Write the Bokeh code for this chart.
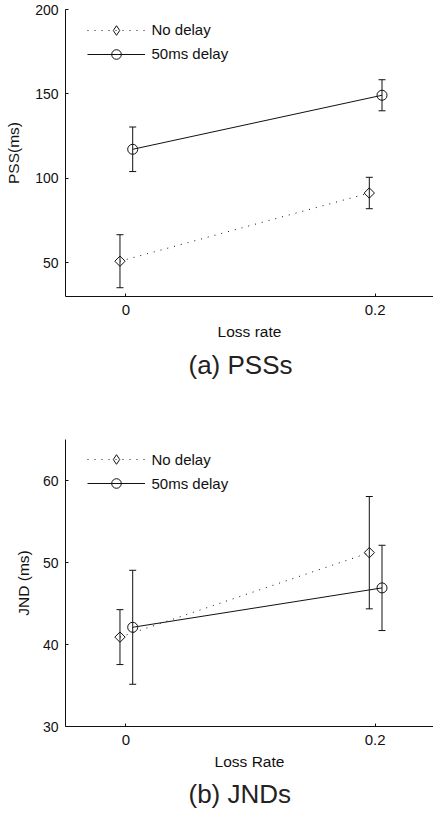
import math
from bokeh.plotting import figure
from bokeh.models import (ColumnDataSource, Whisker, TeeHead, Legend, LegendItem,
                          Range1d, FixedTicker, Title)
from bokeh.layouts import column
from bokeh.transform import dodge
from bokeh.embed import file_html
from bokeh.resources import INLINE

# ---------------- data ----------------
loss_rates = [0.0, 0.2]
x_tick_labels = ["0", "0.2"]
series_names = ["No delay", "50ms delay"]

pss_no_delay = [50.9, 91.3]
pss_no_delay_err = [15.7, 9.3]
pss_delay = [117.2, 149.2]
pss_delay_err = [13.2, 9.2]
pss_yticks = [50, 100, 150, 200]

jnd_no_delay = [40.9, 51.2]
jnd_no_delay_err = [3.35, 6.85]
jnd_delay = [42.1, 46.9]
jnd_delay_err = [6.95, 5.2]
jnd_yticks = [30, 40, 50, 60]

FONT = "Liberation Sans"
INK = "#111111"
DODGE_ND = -0.0047
DODGE_D = 0.0055


def make_panel(nd, nd_err, d, d_err, yr, yticks, ylabel, xlabel, title,
               border_top, border_bottom, legend_loc, ylab_std, title_std):
    p = figure(frame_width=368, frame_height=287, output_backend="svg",
               toolbar_location=None,
               x_range=Range1d(-0.0484, 0.2468), y_range=Range1d(*yr),
               min_border_left=65, min_border_right=0, min_border_top=border_top,
               min_border_bottom=border_bottom)
    p.outline_line_color = None
    p.grid.visible = False
    p.background_fill_color = "white"
    p.border_fill_color = "white"

    src_nd = ColumnDataSource(dict(x=loss_rates, y=nd,
                                   lo=[v - e for v, e in zip(nd, nd_err)],
                                   hi=[v + e for v, e in zip(nd, nd_err)]))
    src_d = ColumnDataSource(dict(x=loss_rates, y=d,
                                  lo=[v - e for v, e in zip(d, d_err)],
                                  hi=[v + e for v, e in zip(d, d_err)]))

    for src, off in ((src_nd, DODGE_ND), (src_d, DODGE_D)):
        w = Whisker(source=src, base=dodge("x", off), lower="lo", upper="hi",
                    line_color=INK, line_width=1,
                    upper_head=TeeHead(size=7, line_color=INK, line_width=1),
                    lower_head=TeeHead(size=7, line_color=INK, line_width=1),
                    level="glyph")
        p.add_layout(w)

    l_nd = p.line(x=dodge("x", DODGE_ND), y="y", source=src_nd, line_color=INK,
                  line_width=1, line_dash="1 6")
    p.scatter(x=dodge("x", DODGE_ND), y="y", source=src_nd, marker="square",
              angle=math.pi / 4, size=7.3, fill_color=None,
              line_color=INK, line_width=1)
    l_d = p.line(x=dodge("x", DODGE_D), y="y", source=src_d, line_color=INK,
                 line_width=1)
    m_d = p.scatter(x=dodge("x", DODGE_D), y="y", source=src_d, marker="circle",
                    size=10, fill_color=None, line_color=INK, line_width=1)
    # legend key for the diamond symbol (legend markers are drawn unrotated);
    # hidden in the plot, used only by the legend
    key_nd = p.scatter(x=dodge("x", DODGE_ND), y="y", source=src_nd,
                       marker="diamond", size=10, fill_color=None,
                       line_color=INK, line_width=1, visible=False)

    legend = Legend(items=[LegendItem(label=series_names[0], renderers=[l_nd, key_nd]),
                           LegendItem(label=series_names[1], renderers=[l_d, m_d])],
                    location=legend_loc, padding=0, margin=0, spacing=-3,
                    glyph_width=58, glyph_height=24, label_height=24,
                    label_standoff=7, label_text_font=FONT,
                    label_text_font_size="15px", label_text_color=INK,
                    background_fill_alpha=0, border_line_color=None,
                    inactive_fill_alpha=0)
    p.add_layout(legend)

    for ax in (p.xaxis[0], p.yaxis[0]):
        ax.axis_line_color = INK
        ax.axis_line_width = 1
        ax.major_tick_line_color = INK
        ax.major_tick_in = 3
        ax.major_tick_out = 0
        ax.minor_tick_line_color = None
        ax.major_label_text_font = FONT
        ax.major_label_text_color = INK
        ax.axis_label_text_font = FONT
        ax.axis_label_text_font_size = "15.5px"
        ax.axis_label_text_font_style = "normal"
        ax.axis_label_text_color = INK

    p.xaxis.ticker = FixedTicker(ticks=loss_rates)
    p.xaxis.major_label_overrides = {t: s for t, s in zip(loss_rates, x_tick_labels)}
    p.xaxis.major_label_text_font_size = "15px"
    p.xaxis.major_label_standoff = 8
    p.xaxis.axis_label = xlabel
    p.xaxis.axis_label_standoff = 5

    p.yaxis.ticker = FixedTicker(ticks=yticks)
    p.yaxis.major_label_text_font_size = "14px"
    p.yaxis.major_label_standoff = 7
    p.yaxis.axis_label = ylabel
    p.yaxis.axis_label_standoff = ylab_std

    p.add_layout(Title(text=title, align="left", offset=123, text_font=FONT,
                       text_font_size="26px", text_font_style="normal",
                       text_color="#222222", standoff=title_std), "below")
    return p


p1 = make_panel(pss_no_delay, pss_no_delay_err, pss_delay, pss_delay_err,
                (30, 200), pss_yticks, "PSS(ms)", "Loss rate", "(a) PSSs",
                border_top=9, border_bottom=104, legend_loc=(21.5, 230.3),
                ylab_std=10, title_std=10)
p2 = make_panel(jnd_no_delay, jnd_no_delay_err, jnd_delay, jnd_delay_err,
                (30, 65), jnd_yticks, "JND (ms)", "Loss Rate", "(b) JNDs",
                border_top=39, border_bottom=87, legend_loc=(21.5, 230.7),
                ylab_std=8, title_std=9)

layout = column(p1, p2, spacing=0)
open("out.html", "w").write(file_html(layout, INLINE))
